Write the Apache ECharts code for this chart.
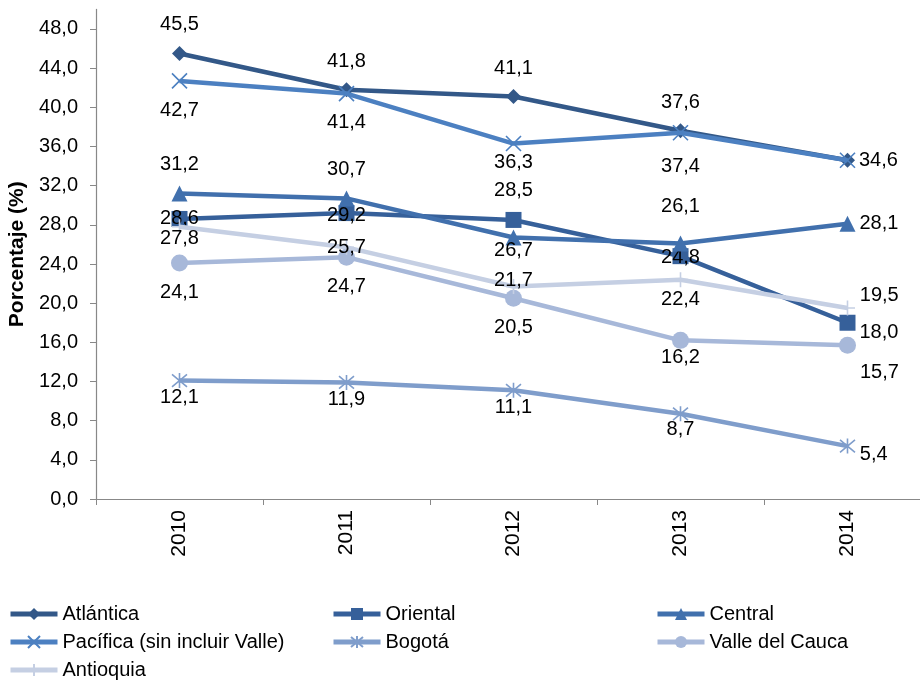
<!DOCTYPE html>
<html>
<head>
<meta charset="utf-8">
<script src="https://cdn.jsdelivr.net/npm/echarts@6/dist/echarts.min.js"></script>
<style>html,body{margin:0;padding:0;background:#fff}#c{width:920px;height:681px}</style>
</head>
<body>
<div id="c"></div>
<script>
// ---- data ----
var years = ['2010', '2011', '2012', '2013', '2014'];
var seriesNames = ['Atlántica', 'Oriental', 'Central', 'Pacífica (sin incluir Valle)', 'Bogotá', 'Valle del Cauca', 'Antioquia'];
var atlantica = [45.5, 41.8, 41.1, 37.6, 34.6];
var oriental  = [28.6, 29.2, 28.5, 24.8, 18.0];
var central   = [31.2, 30.7, 26.7, 26.1, 28.1];
var pacifica  = [42.7, 41.4, 36.3, 37.4, 34.6];
var bogota    = [12.1, 11.9, 11.1, 8.7, 5.4];
var valle     = [24.1, 24.7, 20.5, 16.2, 15.7];
var antioquia = [27.8, 25.7, 21.7, 22.4, 19.5];
var yTicks = [0, 4, 8, 12, 16, 20, 24, 28, 32, 36, 40, 44, 48];

// ---- styles ----
var FONT = 'Liberation Sans, Arial, sans-serif';
var colors = ['#335888', '#36609A', '#4170AD', '#4C80C1', '#7F9DCB', '#A7B8D9', '#C5CFE3'];
var symbols = [
  'diamond', 'rect', 'triangle',
  'path://M0,0L10,10M10,0L0,10',
  'path://M0,0L10,10M10,0L0,10M5,-1L5,11',
  'circle',
  'path://M5,0L5,10M0,5L10,5'
];
var symbolSizes = [15, 16, 16, 15, 15, 17, 15];
// label layout per point: [position, distance, dx, dy] (null = hidden)
var T = ['top', 11, 0, 0], B = ['bottom', 11, 0, 0], I = ['inside', 0, 0, 0];
var labelLayouts = [
  [T, T, T, T, ['right', 4, 0, 0]],
  [['inside', 0, 0, 0], ['inside', 0, 0, 2], T, ['inside', 0, 0, 1], ['right', 4, 0, 10]],
  [T, T, ['bottom', -5, 0, 0], ['top', 19, 0, 0], ['right', 4, 0, 0]],
  [B, B, ['bottom', 1, 0, 0], ['bottom', 15, 0, 0], null],
  [['bottom', -1, 0, 0], ['bottom', -1, 0, 0], ['bottom', -1, 0, 0], ['bottom', -3, 0, 0], ['right', 4, 0, 8]],
  [B, B, B, ['bottom', -1, 0, 0], ['right', 4, 0, 27]],
  [['bottom', -7, 0, 0], I, ['inside', 0, 0, -6], ['bottom', 2, 0, 0], ['right', 4, 0, -13]]
];
var allData = [atlantica, oriental, central, pacifica, bogota, valle, antioquia];

function fmt(v) { return v.toFixed(1).replace('.', ','); }

var series = allData.map(function (arr, si) {
  return {
    name: seriesNames[si],
    type: 'line',
    data: arr.map(function (v, i) {
      var L = labelLayouts[si][i];
      if (!L) return { value: v, label: { show: false } };
      return {
        value: v,
        label: { show: true, position: L[0], distance: L[1], offset: [L[2], L[3]] }
      };
    }),
    symbol: symbols[si],
    symbolSize: symbolSizes[si],
    showAllSymbol: true,
    lineStyle: { width: 4.5, color: colors[si] },
    itemStyle: { color: colors[si], borderColor: colors[si], borderWidth: (symbols[si].indexOf('path') === 0 ? 1.6 : 0) },
    label: {
      show: true, color: '#000', fontSize: 20, fontFamily: FONT,
      formatter: function (p) { return fmt(p.value); }
    },
    emphasis: { disabled: true },
    animation: false,
    z: 2 + si
  };
});

var legendPos = [
  [8, 603], [331, 603], [655, 603],
  [8, 631], [331, 631], [655, 631],
  [8, 659]
];
var legends = seriesNames.map(function (n, i) {
  return {
    data: [n], left: legendPos[i][0], top: legendPos[i][1], padding: 0,
    itemWidth: 47, itemHeight: 15, selectedMode: false,
    lineStyle: { width: 5 },
    textStyle: { fontSize: 20, fontFamily: FONT, color: '#000', lineHeight: 22 }
  };
});

var chart = echarts.init(document.getElementById('c'), null, { renderer: 'canvas' });
chart.setOption({
  animation: false,
  color: colors,
  grid: { left: 96, top: 9.4, width: 835, height: 489.6, containLabel: false, outerBoundsMode: 'none' },
  legend: legends,
  xAxis: {
    type: 'category', data: years, boundaryGap: true,
    axisLine: { lineStyle: { color: '#888', width: 1.2 } },
    axisTick: { show: true, length: 6, lineStyle: { color: '#888' } },
    axisLabel: { rotate: 90, margin: 11, fontSize: 21, fontFamily: FONT, color: '#000' },
    splitLine: { show: false }
  },
  yAxis: {
    type: 'value', min: 0, max: 50, interval: 4,
    name: 'Porcentaje (%)', nameLocation: 'middle', nameGap: 64, nameRotate: 90,
    nameTextStyle: { fontSize: 21, fontWeight: 'bold', fontFamily: FONT, color: '#000' },
    axisLine: { show: true, lineStyle: { color: '#888', width: 1.2 } },
    axisTick: { show: true, length: 6, lineStyle: { color: '#888' }, customValues: yTicks },
    axisLabel: {
      fontSize: 20, fontFamily: FONT, color: '#000', margin: 18, customValues: yTicks,
      formatter: function (v) { return v > 48 ? '' : fmt(v); }
    },
    splitLine: { show: false }
  },
  series: series
});
</script>
</body>
</html>
